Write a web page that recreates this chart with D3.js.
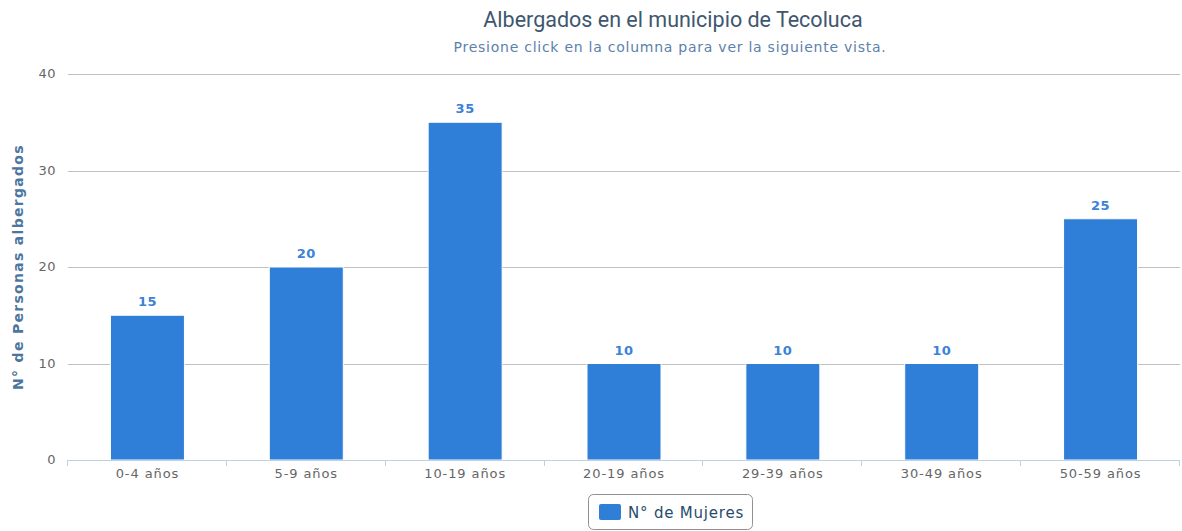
<!DOCTYPE html>
<html>
<head>
<meta charset="utf-8">
<script src="https://cdn.jsdelivr.net/npm/d3@7"></script>
<style>
  html, body { margin: 0; padding: 0; background: #fff; }
  svg text { font-family: "DejaVu Sans", Verdana, sans-serif; }
</style>
</head>
<body>
<svg id="chart" width="1182" height="531"></svg>
<script>
const categories = ["0-4 años", "5-9 años", "10-19 años", "20-19 años", "29-39 años", "30-49 años", "50-59 años"];
const mujeres = [15, 20, 35, 10, 10, 10, 25];
const yTicks = [0, 10, 20, 30, 40];
const seriesName = "N° de Mujeres";
const titleText = "Albergados en el municipio de Tecoluca";
const subtitleText = "Presione click en la columna para ver la siguiente vista.";
const yTitle = "N° de Personas albergados";

const svg = d3.select("#chart");
const W = 1182, H = 531;
const margin = { left: 68, right: 2, top: 74, bottom: 71 };
const plotW = W - margin.left - margin.right;
const plotH = H - margin.top - margin.bottom;

const x = d3.scaleBand().domain(categories).range([margin.left, margin.left + plotW]).paddingInner(0).paddingOuter(0);
const y = d3.scaleLinear().domain([0, 40]).range([margin.top + plotH, margin.top]);

// gridlines
svg.append("g").selectAll("line").data(yTicks.filter(d => d > 0)).join("line")
  .attr("x1", margin.left).attr("x2", margin.left + plotW)
  .attr("y1", d => Math.round(y(d)) + 0.5).attr("y2", d => Math.round(y(d)) + 0.5)
  .attr("stroke", "#C0C0C0").attr("stroke-width", 1);

// y tick labels
svg.append("g").selectAll("text").data(yTicks).join("text")
  .attr("x", margin.left - 12).attr("y", d => y(d) + 4)
  .attr("text-anchor", "end").attr("font-size", 13).attr("letter-spacing", 0.5).attr("fill", "#666")
  .text(d => d);

// y axis title
svg.append("text")
  .attr("transform", `translate(23, ${margin.top + plotH / 2}) rotate(-90)`)
  .attr("text-anchor", "middle").attr("font-size", 14).attr("font-weight", "bold")
  .attr("letter-spacing", 1.3)
  .attr("fill", "#4D759E").text(yTitle);

// bars
const bw = 74;
svg.append("g").selectAll("rect").data(mujeres).join("rect")
  .attr("x", (d, i) => x(categories[i]) + x.bandwidth() / 2 - bw / 2)
  .attr("y", d => y(d))
  .attr("width", bw)
  .attr("height", d => y(0) - y(d))
  .attr("fill", "#2F7ED8").attr("stroke", "#fff").attr("stroke-width", 1);

// data labels
svg.append("g").selectAll("text").data(mujeres).join("text")
  .attr("x", (d, i) => x(categories[i]) + x.bandwidth() / 2)
  .attr("y", d => y(d) - 9)
  .attr("text-anchor", "middle").attr("font-size", 13).attr("font-weight", "bold")
  .attr("letter-spacing", 0.5)
  .attr("fill", "#3A82DA").text(d => d);

// x axis
const xAxisG = svg.append("g").attr("transform", `translate(0, ${margin.top + plotH})`);
xAxisG.append("line").attr("x1", margin.left).attr("x2", margin.left + plotW)
  .attr("y1", 0.5).attr("y2", 0.5).attr("stroke", "#C0D0E0");
const tickPos = categories.map(c => x(c)).concat([margin.left + plotW]);
xAxisG.selectAll("line.tick").data(tickPos).join("line").attr("class", "tick")
  .attr("x1", d => Math.round(d) - 0.5).attr("x2", d => Math.round(d) - 0.5)
  .attr("y1", 0).attr("y2", 6).attr("stroke", "#C0D0E0");
xAxisG.selectAll("text").data(categories).join("text")
  .attr("x", d => x(d) + x.bandwidth() / 2).attr("y", 18)
  .attr("text-anchor", "middle").attr("font-size", 13).attr("letter-spacing", 0.9).attr("fill", "#666")
  .text(d => d);

// title and subtitle
svg.append("text").attr("x", 673).attr("y", 27).attr("text-anchor", "middle")
  .attr("font-size", 21.5).attr("fill", "#3E576F")
  .style("font-family", "Roboto, 'Liberation Sans', sans-serif").text(titleText);
svg.append("text").attr("x", 670).attr("y", 52).attr("text-anchor", "middle")
  .attr("font-size", 14).attr("letter-spacing", 0.75).attr("fill", "#5C82AA").text(subtitleText);

// legend
const lg = svg.append("g").attr("transform", "translate(588, 494)");
lg.append("rect").attr("x", 0.5).attr("y", 0.5).attr("width", 164).attr("height", 35)
  .attr("rx", 5).attr("fill", "#fff").attr("stroke", "#909090");
lg.append("rect").attr("x", 11).attr("y", 10).attr("width", 22).attr("height", 16)
  .attr("rx", 2).attr("fill", "#2F7ED8");
lg.append("text").attr("x", 40).attr("y", 24).attr("font-size", 15).attr("letter-spacing", 0.8).attr("fill", "#274B6D")
  .text(seriesName);
</script>
</body>
</html>
